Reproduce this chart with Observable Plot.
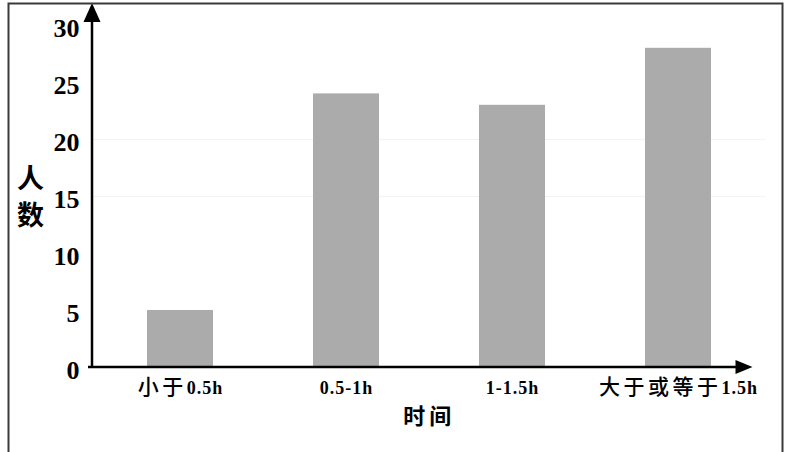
<!DOCTYPE html>
<html><head><meta charset="utf-8">
<script src="https://cdn.jsdelivr.net/npm/d3@7"></script>
<script src="https://cdn.jsdelivr.net/npm/@observablehq/plot@0.6"></script>
<style>body{margin:0;background:#fff;overflow:hidden}</style>
</head><body><div id="chart"></div>
<script>
const categories = ["小于0.5h", "0.5-1h", "1-1.5h", "大于或等于1.5h"];
const counts = [5, 24, 23, 28];
const yTicks = [0, 5, 10, 15, 20, 25, 30];
const gridValues = [15, 20];
const yLabel = "人\n数";
const xLabel = "时间";

const data = categories.map((c, i) => ({time: c, count: counts[i]}));
const serif = "'Liberation Serif', 'Times New Roman', serif";
const cjk = "'Noto Sans CJK SC', sans-serif";

const plot = Plot.plot({
  width: 790, height: 452,
  marginLeft: 92, marginRight: 24.5, marginTop: 25, marginBottom: 85,
  style: {background: "#fff", fontFamily: serif, color: "#000", overflow: "visible"},
  x: {domain: categories, paddingInner: 0.6, paddingOuter: 0.3225, label: null},
  y: {domain: [0, 30], label: null},
  marks: [
    Plot.ruleY(gridValues, {stroke: "#f3f3f3", strokeWidth: 1}),
    Plot.barY(data, {x: "time", y: "count", fill: "#ababab"}),
    Plot.axisY(yTicks, {tickSize: 0, tickPadding: 13, fontSize: 26, fontWeight: "bold", dy: 3, label: null}),
    Plot.axisX({tickSize: 0, tickPadding: 12, fontSize: 20, label: null}),
    Plot.text([yLabel], {frameAnchor: "left", textAnchor: "middle", dx: -62, dy: -2, fontSize: 27, fontWeight: "bold", lineHeight: 1.38, fontFamily: cjk}),
    Plot.text([xLabel], {frameAnchor: "bottom", dy: 56, fontSize: 22, fontWeight: "bold", fontFamily: cjk})
  ]
});
document.getElementById("chart").appendChild(plot);

const svg = d3.select(plot);
const xs = plot.scale("x"), ys = plot.scale("y");
const x0 = xs.range[0], x1 = xs.range[1];
const y0 = ys.apply(0), yTop = ys.apply(30);

// x tick labels: CJK part sans, ASCII part bold serif
svg.selectAll('g[aria-label="x-axis tick label"] text').each(function () {
  const t = d3.select(this);
  const s = t.text();
  const m = s.match(/^([^\x00-\x7f]*)(.*)$/);
  t.text(null);
  if (m[1]) t.append("tspan").attr("font-family", cjk).attr("font-size", 21).attr("font-weight", 500).attr("letter-spacing", "3.5px").text(m[1]);
  if (m[2]) t.append("tspan").attr("font-family", serif).attr("font-size", 18).attr("font-weight", "bold").attr("letter-spacing", "1px").text(m[2]);
});
svg.selectAll('g[aria-label="text"] text').filter(function(){return d3.select(this).text()===xLabel;}).attr("letter-spacing", "4px");

// axis lines with arrowheads
const ax = svg.append("g").attr("fill", "#000").attr("stroke", "#000");
ax.append("line").attr("x1", x0).attr("x2", x0).attr("y1", y0 + 1).attr("y2", yTop - 12).attr("stroke-width", 2.5);
ax.append("path").attr("stroke", "none").attr("d", `M${x0},${yTop - 22}L${x0 + 8.5},${yTop - 3}L${x0 - 8.5},${yTop - 3}Z`);
ax.append("line").attr("x1", x0 - 4).attr("x2", x1 - 22).attr("y1", y0).attr("y2", y0).attr("stroke-width", 2.5);
ax.append("path").attr("stroke", "none").attr("d", `M${x1 - 13},${y0}L${x1 - 30},${y0 - 7}L${x1 - 30},${y0 + 7}Z`);

// outer frame
svg.append("rect").attr("x", 8.5).attr("y", 3.5).attr("width", 774).attr("height", 470)
  .attr("fill", "none").attr("stroke", "#3a3a3a").attr("stroke-width", 2);
</script>
</body></html>
